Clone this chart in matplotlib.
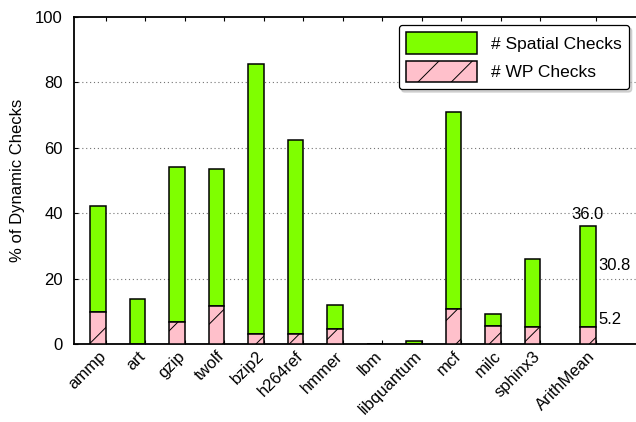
import matplotlib
matplotlib.use("Agg")
import matplotlib.pyplot as plt
import numpy as np

plt.rcParams['font.family'] = ['Liberation Sans', 'DejaVu Sans']
plt.rcParams['hatch.linewidth'] = 0.7
plt.rcParams['hatch.color'] = 'black'

# Benchmarks and check counts (% of dynamic checks)
benchmarks = ['ammp', 'art', 'gzip', 'twolf', 'bzip2', 'h264ref', 'hmmer', 'lbm',
              'libquantum', 'mcf', 'milc', 'sphinx3', 'ArithMean']
wp_checks = [9.8, 0.0, 6.9, 11.7, 3.2, 3.0, 4.8, 0.0, 0.0, 10.7, 5.7, 5.3, 5.2]
spatial_checks = [32.4, 13.7, 47.1, 41.9, 82.4, 59.4, 7.3, 0.0, 1.1, 60.2, 3.5, 20.7, 30.8]
y_ticks = [0, 20, 40, 60, 80, 100]

green = '#7FFF00'
pink = '#FFC0CB'
FS = 12

# slot positions: the mean bar sits a little apart from the benchmarks
slots = np.arange(len(benchmarks), dtype=float)
slots[-1] += 0.4
bar_w = 0.4

fig = plt.figure(figsize=(6.36, 4.22), dpi=100)
ax = fig.add_axes([74 / 636, 77.7 / 422, 562 / 636, 327.6 / 422])

wp = np.array(wp_checks)
sp = np.array(spatial_checks)

ax.bar(slots, sp, bar_w, bottom=wp, color=green, edgecolor='black',
       linewidth=1.1, label='# Spatial Checks', zorder=3)
ax.bar(slots, wp, bar_w, color=pink, edgecolor='black', hatch='/',
       linewidth=1.1, label='# WP Checks', zorder=3)

ax.set_xlim(-0.608, 13.62)
ax.set_ylim(0, 100)
ax.set_yticks(y_ticks)
ax.set_yticklabels([str(v) for v in y_ticks], fontsize=FS)

# labels under the bar centres, tick marks at the bar right edges
ax.set_xticks(slots)
ax.set_xticklabels(benchmarks, rotation=45, ha='right', va='top',
                   rotation_mode='anchor', fontsize=FS)
ax.set_xticks(slots + bar_w / 2, minor=True)
ax.tick_params(axis='x', which='major', length=0, pad=3)
ax.tick_params(axis='x', which='minor', direction='in', length=3, width=0.8,
               top=True, bottom=True)
ax.tick_params(axis='y', direction='in', length=3, width=0.8, pad=8)

for yv in y_ticks[1:-1]:
    ax.axhline(yv, color='0.45', linestyle=(0, (1, 2.5)), linewidth=0.8, zorder=1)

for side in ['left', 'top', 'bottom']:
    ax.spines[side].set_linewidth(1.3)
ax.spines['right'].set_visible(False)

ax.set_ylabel('% of Dynamic Checks', fontsize=FS)
ax.yaxis.set_label_coords(-49 / 562, 0.5)

# value labels on the mean bar
m_x = slots[-1]
m_wp = wp[-1]
m_sp = sp[-1]
ax.text(m_x, m_wp + m_sp + 1.2, f'{m_wp + m_sp:.1f}', ha='center', va='bottom',
        fontsize=FS, zorder=4)
ax.text(m_x + bar_w / 2 + 0.06, m_wp + m_sp * 0.61, f'{m_sp:.1f}', ha='left',
        va='center', fontsize=FS, zorder=4)
ax.text(m_x + bar_w / 2 + 0.06, m_wp, f'{m_wp:.1f}', ha='left', va='bottom',
        fontsize=FS, zorder=4)

leg = ax.legend(loc='upper right', bbox_to_anchor=(629 / 636, (422 - 25) / 422),
                bbox_transform=fig.transFigure, fontsize=12.5, frameon=True,
                fancybox=True, shadow={'color': '0.7'}, handlelength=4.14,
                handleheight=1.55, handletextpad=0.8, labelspacing=0.4,
                borderpad=0.4, borderaxespad=0)
leg.get_frame().set_edgecolor('black')
leg.get_frame().set_linewidth(0.9)
leg.get_frame().set_alpha(1)

fig.savefig('out.png', dpi=100)
